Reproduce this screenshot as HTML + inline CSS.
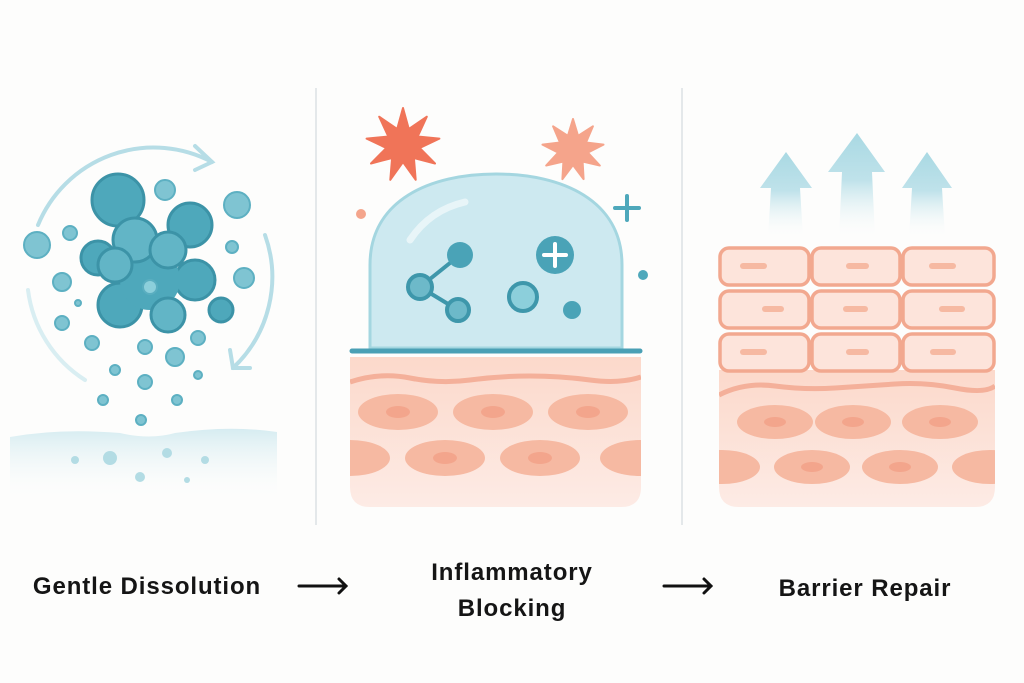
<!DOCTYPE html>
<html><head><meta charset="utf-8"><style>
html,body{margin:0;padding:0;background:#fdfdfc;}
svg{display:block;}
text{font-family:"Liberation Sans",sans-serif;font-weight:bold;fill:#151515;letter-spacing:0.9px;}
</style></head><body>
<svg id="s" width="1024" height="683" viewBox="0 0 1024 683" xmlns="http://www.w3.org/2000/svg">
<defs>
<linearGradient id="gnd" x1="0" y1="0" x2="0" y2="1"><stop offset="0" stop-color="#d6ecf1"/><stop offset="1" stop-color="#fdfdfc" stop-opacity="0"/></linearGradient>
<linearGradient id="arr" x1="0" y1="0" x2="0" y2="1"><stop offset="0" stop-color="#a9d9e3"/><stop offset="0.45" stop-color="#bfe2ea"/><stop offset="1" stop-color="#fdfdfc" stop-opacity="0"/></linearGradient>
<linearGradient id="skin" x1="0" y1="0" x2="0" y2="1"><stop offset="0" stop-color="#fcd9cb"/><stop offset="1" stop-color="#fdebe5"/></linearGradient>
<clipPath id="c2"><path d="M350,357 H641 V487 Q641,507 621,507 H370 Q350,507 350,487 Z"/></clipPath>
<clipPath id="c3"><path d="M719,245 H995 V487 Q995,507 975,507 H739 Q719,507 719,487 Z"/></clipPath>
</defs>
<rect width="1024" height="683" fill="#fdfdfc"/>
<line x1="316" y1="88" x2="316" y2="525" stroke="#e4e8ea" stroke-width="2"/>
<line x1="682" y1="88" x2="682" y2="525" stroke="#e4e8ea" stroke-width="2"/>

<!-- Panel 1 -->
<g fill="none" stroke="#b6dde6" stroke-width="4" stroke-linecap="round">
<path d="M38,225 A125,125 0 0 1 212,162"/>
<path d="M195,146 L212,162 L195,170"/>
<path d="M265,235 A125,125 0 0 1 233,368"/>
<path d="M230,350 L233,368 L250,368"/>
<path d="M28,290 A125,125 0 0 0 85,380" stroke="#d9eef2"/>
</g>
<path d="M10,437 Q60,428 120,433 Q150,440 175,433 Q230,425 277,432 V500 H10 Z" fill="url(#gnd)"/>
<g fill="#4ea8bb" stroke="#3c93a7" stroke-width="3">
<circle cx="118" cy="200" r="26"/>
<circle cx="98" cy="258" r="17"/>
<circle cx="195" cy="280" r="20"/>
<circle cx="190" cy="225" r="22"/>
<circle cx="120" cy="305" r="22"/>
<circle cx="150" cy="280" r="30" stroke="none"/>
<circle cx="135" cy="240" r="22" fill="#62b5c6"/>
<circle cx="168" cy="250" r="18" fill="#62b5c6"/>
<circle cx="115" cy="265" r="17" fill="#62b5c6"/>
<circle cx="168" cy="315" r="17" fill="#62b5c6"/>
<circle cx="221" cy="310" r="12"/>
</g>
<circle cx="150" cy="287" r="7" fill="#8ccfdb" stroke="#5aaec0" stroke-width="2"/>
<g fill="#7fc4d2" stroke="#5db0c2" stroke-width="2">
<circle cx="165" cy="190" r="10"/><circle cx="237" cy="205" r="13"/><circle cx="37" cy="245" r="13"/>
<circle cx="70" cy="233" r="7"/><circle cx="232" cy="247" r="6"/><circle cx="244" cy="278" r="10"/>
<circle cx="62" cy="282" r="9"/><circle cx="78" cy="303" r="3"/><circle cx="62" cy="323" r="7"/>
<circle cx="92" cy="343" r="7"/><circle cx="145" cy="347" r="7"/><circle cx="175" cy="357" r="9"/>
<circle cx="198" cy="338" r="7"/><circle cx="115" cy="370" r="5"/><circle cx="145" cy="382" r="7"/>
<circle cx="198" cy="375" r="4"/><circle cx="103" cy="400" r="5"/><circle cx="177" cy="400" r="5"/>
<circle cx="141" cy="420" r="5"/>
</g>
<g fill="#b3dce4">
<circle cx="75" cy="460" r="4"/><circle cx="110" cy="458" r="7"/><circle cx="167" cy="453" r="5"/>
<circle cx="205" cy="460" r="4"/><circle cx="140" cy="477" r="5"/><circle cx="187" cy="480" r="3"/>
</g>

<!-- Panel 2 -->
<g id="stars"></g>
<circle cx="361" cy="214" r="5" fill="#f4a58c"/>
<path d="M627,196 V220 M615,208 H639" stroke="#4ea8bb" stroke-width="4" stroke-linecap="round"/>
<circle cx="643" cy="275" r="5" fill="#4ea8bb"/>
<path d="M370,348 L370,265 C370,200 430,174 496,174 C562,174 622,200 622,265 L622,348 Z" fill="#cde9f0" stroke="#a4d6e0" stroke-width="3"/>
<path d="M410,240 Q430,210 465,202" stroke="#e8f5f8" stroke-width="7" fill="none" stroke-linecap="round"/>
<g stroke="#3e97ab" stroke-width="4"><line x1="420" y1="287" x2="460" y2="255"/><line x1="420" y1="287" x2="458" y2="310"/></g>
<circle cx="420" cy="287" r="12" fill="#6db9c9" stroke="#3e97ab" stroke-width="4"/>
<circle cx="460" cy="255" r="13" fill="#4aa3b7"/>
<circle cx="458" cy="310" r="11" fill="#6db9c9" stroke="#3e97ab" stroke-width="4"/>
<circle cx="555" cy="255" r="19" fill="#4aa3b7"/>
<path d="M555,244 V266 M544,255 H566" stroke="#fff" stroke-width="4" stroke-linecap="round"/>
<circle cx="523" cy="297" r="14" fill="#8ccfdb" stroke="#3e97ab" stroke-width="4"/>
<circle cx="572" cy="310" r="9" fill="#4aa3b7"/>
<line x1="352" y1="351" x2="640" y2="351" stroke="#4aa0b5" stroke-width="5" stroke-linecap="round"/>
<g clip-path="url(#c2)">
<rect x="350" y="357" width="291" height="150" fill="url(#skin)"/>
<path d="M350,382 Q380,372 410,378 T470,380 T530,376 T590,380 T641,377" stroke="#f4b09a" stroke-width="5" fill="none"/>
<g fill="#f6b9a2"><ellipse cx="398" cy="412" rx="40" ry="18"/><ellipse cx="493" cy="412" rx="40" ry="18"/><ellipse cx="588" cy="412" rx="40" ry="18"/>
<ellipse cx="350" cy="458" rx="40" ry="18"/><ellipse cx="445" cy="458" rx="40" ry="18"/><ellipse cx="540" cy="458" rx="40" ry="18"/><ellipse cx="640" cy="458" rx="40" ry="18"/></g>
<g fill="#f3a58c"><ellipse cx="398" cy="412" rx="12" ry="6"/><ellipse cx="493" cy="412" rx="12" ry="6"/><ellipse cx="588" cy="412" rx="12" ry="6"/>
<ellipse cx="445" cy="458" rx="12" ry="6"/><ellipse cx="540" cy="458" rx="12" ry="6"/></g>
</g>

<!-- Panel 3 -->
<g fill="url(#arr)">
<path d="M786,152 L812,188 L800,188 L803,238 L768,238 L771,188 L760,188 Z"/>
<path d="M857,133 L885,172 L872,172 L875,238 L839,238 L842,172 L828,172 Z"/>
<path d="M927,152 L952,188 L942,188 L945,238 L909,238 L912,188 L902,188 Z"/>
</g>
<g clip-path="url(#c3)">
<rect x="719" y="370" width="276" height="137" fill="url(#skin)"/>
<path d="M719,395 Q745,382 775,386 T835,388 T895,384 T955,388 T995,386" stroke="#f4b09a" stroke-width="5" fill="none"/>
<g fill="#f6b9a2"><ellipse cx="775" cy="422" rx="38" ry="17"/><ellipse cx="853" cy="422" rx="38" ry="17"/><ellipse cx="940" cy="422" rx="38" ry="17"/>
<ellipse cx="722" cy="467" rx="38" ry="17"/><ellipse cx="812" cy="467" rx="38" ry="17"/><ellipse cx="900" cy="467" rx="38" ry="17"/><ellipse cx="990" cy="467" rx="38" ry="17"/></g>
<g fill="#f3a58c"><ellipse cx="775" cy="422" rx="11" ry="5"/><ellipse cx="853" cy="422" rx="11" ry="5"/><ellipse cx="940" cy="422" rx="11" ry="5"/>
<ellipse cx="812" cy="467" rx="11" ry="5"/><ellipse cx="900" cy="467" rx="11" ry="5"/></g>
</g>
<g fill="#fde4db" stroke="#f2a88f" stroke-width="3.5">
<rect x="720" y="248" width="89" height="37" rx="9"/><rect x="812" y="248" width="88" height="37" rx="9"/><rect x="903" y="248" width="91" height="37" rx="9"/>
<rect x="720" y="291" width="89" height="37" rx="9"/><rect x="812" y="291" width="88" height="37" rx="9"/><rect x="903" y="291" width="91" height="37" rx="9"/>
<rect x="720" y="334" width="89" height="37" rx="9"/><rect x="812" y="334" width="88" height="37" rx="9"/><rect x="903" y="334" width="91" height="37" rx="9"/>
</g>
<g stroke="#f6b9a2" stroke-width="6" stroke-linecap="round">
<line x1="743" y1="266" x2="764" y2="266"/><line x1="849" y1="266" x2="866" y2="266"/><line x1="932" y1="266" x2="953" y2="266"/>
<line x1="765" y1="309" x2="781" y2="309"/><line x1="846" y1="309" x2="865" y2="309"/><line x1="942" y1="309" x2="962" y2="309"/>
<line x1="743" y1="352" x2="764" y2="352"/><line x1="849" y1="352" x2="866" y2="352"/><line x1="933" y1="352" x2="953" y2="352"/>
</g>

<!-- Labels -->
<text x="147" y="594" font-size="24" text-anchor="middle">Gentle Dissolution</text>
<text x="512" y="580" font-size="24" text-anchor="middle">Inflammatory</text>
<text x="512" y="616" font-size="24" text-anchor="middle">Blocking</text>
<text x="865" y="596" font-size="24" text-anchor="middle">Barrier Repair</text>
<g stroke="#111" stroke-width="3" fill="none" stroke-linecap="round">
<path d="M299,586 H346 M339,579 L346,586 L339,593"/>
<path d="M664,586 H711 M704,579 L711,586 L704,593"/>
</g>
</svg>
<script>
function star(cx,cy,R,r,n,col){var p=[];for(var i=0;i<2*n;i++){var a=Math.PI*i/n-Math.PI/2;var rr=i%2?r:R;p.push((cx+rr*Math.cos(a)).toFixed(1)+","+(cy+rr*Math.sin(a)).toFixed(1));}
var g=document.getElementById("stars");
var el=document.createElementNS("http://www.w3.org/2000/svg","polygon");el.setAttribute("points",p.join(" "));el.setAttribute("fill",col);el.setAttribute("stroke",col);el.setAttribute("stroke-width","2");el.setAttribute("stroke-linejoin","round");g.appendChild(el);
var c=document.createElementNS("http://www.w3.org/2000/svg","circle");c.setAttribute("cx",cx);c.setAttribute("cy",cy);c.setAttribute("r",r*1.05);c.setAttribute("fill",col);g.appendChild(c);}
star(403,145,37,17,9,"#f07458");star(573,150,31,15,9,"#f5a48b");
</script>
</body></html>
